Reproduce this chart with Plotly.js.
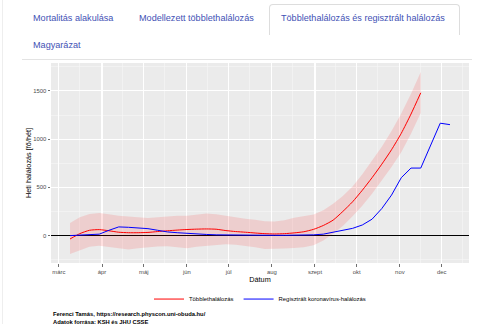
<!DOCTYPE html>
<html>
<head>
<meta charset="utf-8">
<script src="https://cdn.plot.ly/plotly-3.0.1.min.js"></script>
<style>
  html, body { margin: 0; padding: 0; background: #fff; width: 480px; height: 324px; overflow: hidden; }
  #frame { position: absolute; left: 2px; top: 0; width: 1px; height: 324px; background: #eeeeee; }
  .tab { position: absolute; font-family: "Liberation Sans", Arial, sans-serif; font-size: 9.1px; color: #3f51b5; white-space: nowrap; z-index: 3; }
  #activebox { position: absolute; left: 269px; top: 4px; width: 189px; height: 30px; border: 1px solid #dddddd; border-bottom: none; border-radius: 4px 4px 0 0; background: #fff; z-index: 2; }
  #divider { position: absolute; left: 22px; top: 59px; width: 450px; height: 1px; background: #e3e3e3; z-index: 2; }
  #plot { position: absolute; left: 0; top: 0; width: 480px; height: 324px; z-index: 1; }
</style>
</head>
<body>
<div id="frame"></div>
<div id="activebox"></div>
<div class="tab" style="left:33px; top:13px;">Mortalitás alakulása</div>
<div class="tab" style="left:139px; top:13px;">Modellezett többlethalálozás</div>
<div class="tab" style="left:281px; top:13px;">Többlethalálozás és regisztrált halálozás</div>
<div class="tab" style="left:33px; top:40px;">Magyarázat</div>
<div id="divider"></div>
<div id="plot"></div>
<script>
// ---- data ----
const weeks = ["2020-03-09","2020-03-16","2020-03-23","2020-03-30","2020-04-06","2020-04-13","2020-04-20","2020-04-27",
  "2020-05-04","2020-05-11","2020-05-18","2020-05-25","2020-06-01","2020-06-08","2020-06-15","2020-06-22","2020-06-29",
  "2020-07-06","2020-07-13","2020-07-20","2020-07-27","2020-08-03","2020-08-10","2020-08-17","2020-08-24","2020-08-31",
  "2020-09-07","2020-09-14","2020-09-21","2020-09-28","2020-10-05","2020-10-12","2020-10-19","2020-10-26",
  "2020-11-02","2020-11-09","2020-11-16","2020-11-23","2020-11-30","2020-12-07"];

// Többlethalálozás (excess deaths), Mar 9 – Nov 16
const excess = [-35,20,55,62,50,35,30,30,33,42,50,57,63,67,69,66,52,42,35,27,20,17,20,28,40,65,105,160,250,350,470,600,740,890,1060,1260,1480];
const excessUpper = [130,190,225,235,220,205,198,190,183,190,200,205,205,215,228,222,205,185,175,165,150,145,160,185,200,218,262,330,410,510,635,775,920,1085,1265,1470,1695];
const excessLower = [-190,-150,-115,-105,-120,-135,-145,-130,-120,-112,-110,-120,-130,-115,-105,-95,-90,-95,-105,-120,-140,-140,-135,-128,-120,-100,-50,20,100,200,310,435,570,710,865,1055,1270];

// Regisztrált koronavírus-halálozás, Mar 9 – Dec 7
const registered = [0,3,8,15,55,90,86,78,72,55,38,30,22,16,12,8,6,4,3,3,3,3,3,4,5,8,15,35,55,75,110,170,280,420,600,700,700,935,1165,1150];

const monthTicks = ["2020-03-01","2020-04-01","2020-05-01","2020-06-01","2020-07-01","2020-08-01","2020-09-01","2020-10-01","2020-11-01","2020-12-01"];
const monthLabels = ["márc","ápr","máj","jún","júl","aug","szept","okt","nov","dec"];
const yTicks = [0, 500, 1000, 1500];

const seriesNames = ["Többlethalálozás", "Regisztrált koronavírus-halálozás"];
// ---------------

const exWeeks = weeks.slice(0, excess.length);
const font = "Liberation Sans, Arial, sans-serif";

const traces = [
  { x: exWeeks, y: excessLower, type: "scatter", mode: "lines", line: {width: 0, color: "rgba(0,0,0,0)"},
    showlegend: false, hoverinfo: "skip" },
  { x: exWeeks, y: excessUpper, type: "scatter", mode: "lines", line: {width: 0, color: "rgba(0,0,0,0)"},
    fill: "tonexty", fillcolor: "rgba(255,0,0,0.12)", showlegend: false, hoverinfo: "skip" },
  { x: exWeeks, y: excess, type: "scatter", mode: "lines", name: seriesNames[0],
    line: {color: "#FF0000", width: 1, shape: "spline", smoothing: 0.6} },
  { x: weeks, y: registered, type: "scatter", mode: "lines", name: seriesNames[1],
    line: {color: "#0000FF", width: 1} }
];

const layout = {
  width: 480, height: 324,
  margin: {l: 51, r: 11, t: 63, b: 61},
  paper_bgcolor: "rgba(0,0,0,0)",
  plot_bgcolor: "#EBEBEB",
  font: {family: font, color: "#000"},
  showlegend: true,
  legend: {orientation: "h", traceorder: "normal", xref: "paper", x: 0.5, xanchor: "center",
    yref: "container", y: 0.077, yanchor: "middle",
    font: {size: 5.9, family: font, color: "#000"}, itemwidth: 30, bgcolor: "rgba(0,0,0,0)"},
  xaxis: {
    type: "date",
    range: ["2020-02-24 08:00", "2020-12-20 16:00"],
    tickmode: "array", tickvals: monthTicks, ticktext: monthLabels,
    tickfont: {size: 5.9, color: "#4D4D4D", family: font},
    ticks: "outside", ticklen: 2.5, tickwidth: 0.7, tickcolor: "#333333",
    showgrid: true, gridcolor: "#FFFFFF", gridwidth: 1.1,
    minor: {tickmode: "linear", tick0: "2020-02-16", dtick: "M1", showgrid: true, gridcolor: "#F6F6F6", gridwidth: 0.6, ticks: ""},
    zeroline: false, showline: false, automargin: false,
    title: {text: "Dátum", font: {size: 7.3, color: "#000", family: font}, standoff: 3}
  },
  yaxis: {
    range: [-284, 1789],
    tickmode: "array", tickvals: yTicks,
    tickfont: {size: 5.9, color: "#4D4D4D", family: font},
    ticks: "outside", ticklen: 2.5, tickwidth: 0.7, tickcolor: "#333333",
    showgrid: true, gridcolor: "#FFFFFF", gridwidth: 1.1,
    minor: {tickmode: "linear", tick0: -250, dtick: 500, showgrid: true, gridcolor: "#F6F6F6", gridwidth: 0.6, ticks: ""},
    zeroline: true, zerolinecolor: "#000000", zerolinewidth: 1,
    showline: false, automargin: false,
    title: {text: "Heti halálozás [fő/hét]", font: {size: 7.3, color: "#000", family: font}, standoff: 0}
  },
  annotations: [
    {xref: "paper", yref: "paper", x: 0, y: -0.232, xanchor: "left", yanchor: "top", showarrow: false, align: "left",
     text: "<b>Ferenci Tamás, https://research.physcon.uni-obuda.hu/</b><br><b>Adatok forrása: KSH és JHU CSSE</b>",
     font: {size: 5.8, color: "#000", family: font}}
  ]
};

Plotly.newPlot("plot", traces, layout, {displayModeBar: false, staticPlot: true});
</script>
</body>
</html>
